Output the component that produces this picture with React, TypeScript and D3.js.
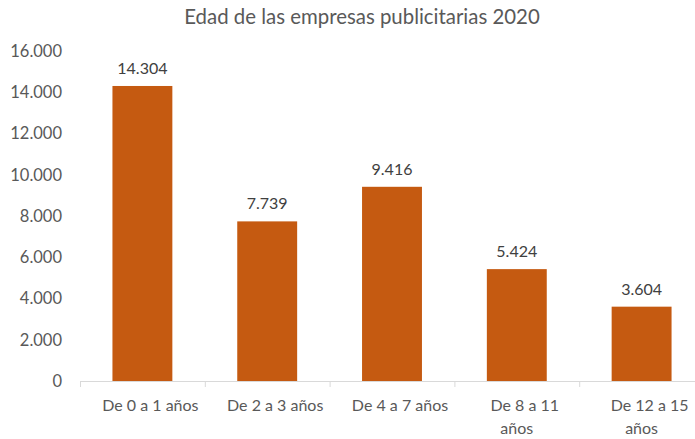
import React, { useEffect, useRef } from 'react';
import * as d3 from 'd3';

const categories = ['De 0 a 1 años', 'De 2 a 3 años', 'De 4 a 7 años', 'De 8 a 11 años', 'De 12 a 15 años'];
const categoryLines = [['De 0 a 1 años'], ['De 2 a 3 años'], ['De 4 a 7 años'], ['De 8 a 11', 'años'], ['De 12 a 15', 'años']];
const values = [14304, 7739, 9416, 5424, 3604];
const yTicks = [0, 2000, 4000, 6000, 8000, 10000, 12000, 14000, 16000];
const title = 'Edad de las empresas publicitarias 2020';

const fmt = (v: number) => (v === 0 ? '0' : d3.format(',')(v).replace(/,/g, '.'));

const App = () => {
  const ref = useRef<SVGSVGElement>(null);

  useEffect(() => {
    document.body.style.margin = '0'; // page default margin would shift the chart

    const width = 695;
    const height = 439;
    const margin = { top: 51, right: -9, bottom: 58, left: 80 };
    const font = 'Lato, "Open Sans", sans-serif';

    const svg = d3.select(ref.current);
    svg.selectAll('*').remove();

    svg.append('rect').attr('width', width).attr('height', height).attr('fill', '#fff');

    const x = d3.scaleBand()
      .domain(categories)
      .range([margin.left, width - margin.right])
      .paddingInner(0.52)
      .paddingOuter(0.26);

    const y = d3.scaleLinear()
      .domain([0, 16000])
      .range([height - margin.bottom, margin.top]);

    // title
    svg.append('text')
      .attr('x', 362)
      .attr('y', 24)
      .attr('text-anchor', 'middle')
      .attr('font-family', font)
      .attr('font-size', 20.4)
      .attr('fill', '#595959')
      .text(title);

    // y axis labels
    svg.append('g')
      .selectAll('text')
      .data(yTicks)
      .join('text')
      .attr('x', 62)
      .attr('y', d => y(d))
      .attr('dy', '0.35em')
      .attr('text-anchor', 'end')
      .attr('font-family', font)
      .attr('font-size', 16.5)
      .attr('fill', '#595959')
      .text(d => fmt(d));

    // bars
    svg.append('g')
      .selectAll('rect')
      .data(values)
      .join('rect')
      .attr('x', (d, i) => x(categories[i])!)
      .attr('y', d => y(d))
      .attr('width', x.bandwidth())
      .attr('height', d => y(0) - y(d))
      .attr('fill', '#C55A11');

    // data labels
    svg.append('g')
      .selectAll('text')
      .data(values)
      .join('text')
      .attr('x', (d, i) => x(categories[i])! + x.bandwidth() / 2)
      .attr('y', d => y(d) - 12)
      .attr('text-anchor', 'middle')
      .attr('font-family', font)
      .attr('font-size', 16)
      .attr('fill', '#404040')
      .text(d => fmt(d));

    // x axis
    const step = x.step();
    const x0 = margin.left;
    const axis = svg.append('g');
    axis.append('line')
      .attr('x1', x0).attr('x2', x0 + step * categories.length)
      .attr('y1', y(0) + 0.5).attr('y2', y(0) + 0.5)
      .attr('stroke', '#D9D9D9').attr('stroke-width', 1);
    axis.selectAll('line.tick')
      .data(d3.range(categories.length + 1))
      .join('line')
      .attr('class', 'tick')
      .attr('x1', i => x0 + i * step + 0.5).attr('x2', i => x0 + i * step + 0.5)
      .attr('y1', y(0)).attr('y2', y(0) + 6)
      .attr('stroke', '#D9D9D9');

    axis.selectAll('text')
      .data(categories)
      .join('text')
      .attr('y', y(0) + 30)
      .attr('text-anchor', 'middle')
      .attr('font-family', font)
      .attr('font-size', 16)
      .attr('fill', '#595959')
      .each(function (d, i) {
        const cx = x(d)! + x.bandwidth() / 2;
        d3.select(this).selectAll('tspan')
          .data(categoryLines[i])
          .join('tspan')
          .attr('x', (l, j) => cx + (j === 0 ? 8 : 0))
          .attr('dy', (l, j) => (j === 0 ? 0 : 23))
          .text(l => l);
      });
  }, []);

  return <svg ref={ref} width={695} height={439} style={{ display: 'block' }} />;
};

export default App;
